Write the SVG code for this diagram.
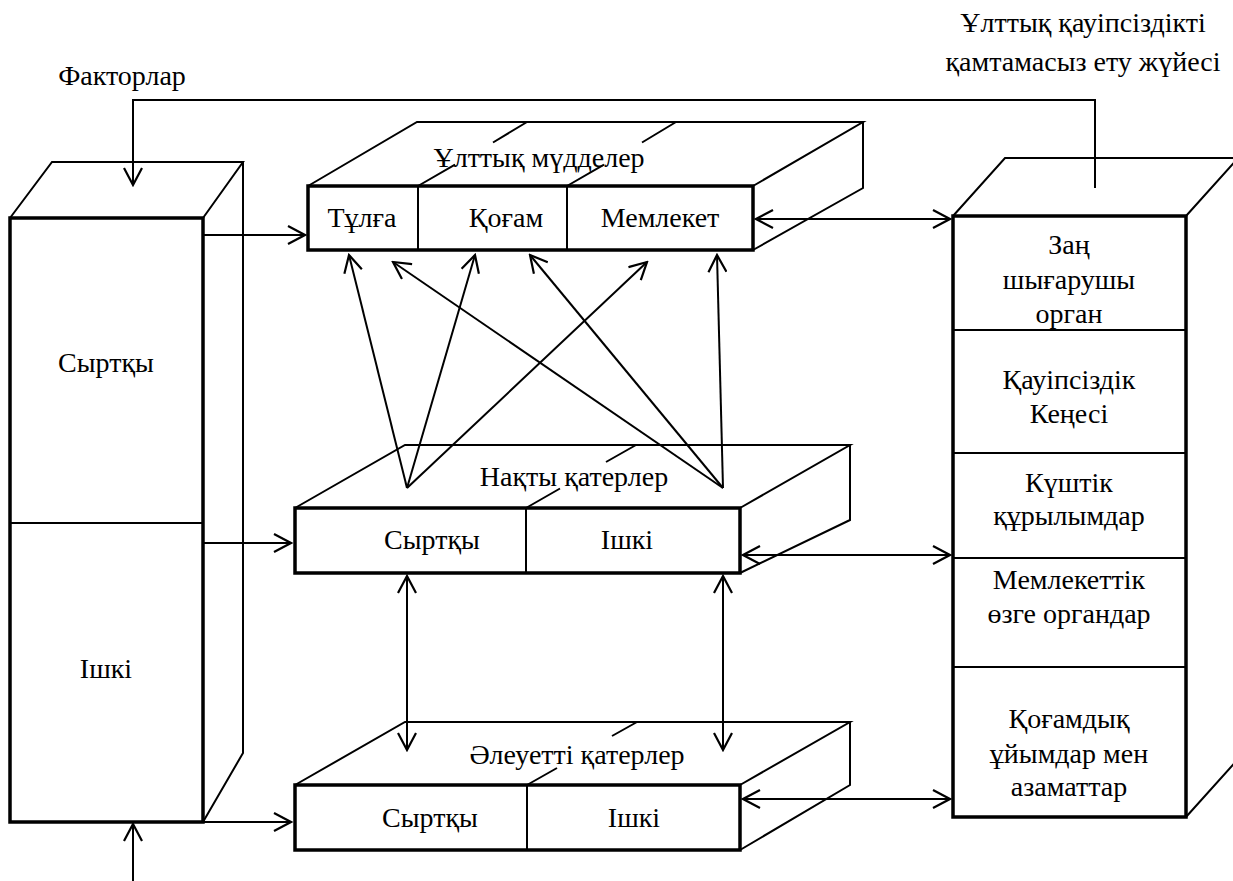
<svg xmlns="http://www.w3.org/2000/svg" width="1233" height="881" viewBox="0 0 1233 881">
<defs>
<marker id="ah" viewBox="0 0 20 20" refX="18" refY="10" markerWidth="20" markerHeight="20" markerUnits="userSpaceOnUse" orient="auto-start-reverse">
<path d="M1,1 L18,10 L1,19" fill="none" stroke="#000" stroke-width="2.2"/>
</marker>
</defs>
<style>
text{font-family:"Liberation Serif","Times New Roman","DejaVu Serif",serif;font-size:28px;fill:#000;text-anchor:middle}
.front{fill:#fff;stroke:#000;stroke-width:3.5}
.face{fill:none;stroke:#000;stroke-width:2}
.div{stroke:#000;stroke-width:2}
.con{fill:none;stroke:#000;stroke-width:2;marker-end:url(#ah)}
.dbl{fill:none;stroke:#000;stroke-width:2;marker-end:url(#ah);marker-start:url(#ah)}
</style>
<rect width="1233" height="881" fill="#fff"/>

<g id="labels">
<text x="1083" y="32">Ұлттық қауіпсіздікті</text>
<text x="1083" y="71">қамтамасыз ету жүйесі</text>
<text x="122" y="85">Факторлар</text>
</g>

<g id="factors">
<path class="face" d="M10,218 L52,162 L243,162 L203,218 M243,162 L243,753 L203,822"/>
<rect class="front" x="10" y="218" width="193" height="604"/>
<line class="div" x1="10" y1="523" x2="203" y2="523"/>
<text x="106" y="372">Сыртқы</text>
<text x="106" y="678">Ішкі</text>
</g>

<g id="interests">
<path class="face" d="M308,186 L417,122 L863,122 L753,186 M863,122 L863,188 L753,250"/>
<path class="div" d="M418,186 L455,164.6 M493,142.5 L527,122 M567,186 L604,164.6 M642,142.5 L676,122"/>
<rect class="front" x="308" y="186" width="445" height="64"/>
<line class="div" x1="418" y1="186" x2="418" y2="250"/>
<line class="div" x1="567" y1="186" x2="567" y2="250"/>
<text x="539" y="167">Ұлттық мүдделер</text>
<text x="362" y="227">Тұлға</text>
<text x="506" y="227">Қоғам</text>
<text x="660" y="227">Мемлекет</text>
</g>

<g id="real-threats">
<path class="face" d="M295,508 L405,445 L850,445 L740,508 M850,445 L850,520 L740,573"/>
<path class="div" d="M526,508 L560,488.5 M606,462 L636,445"/>
<rect class="front" x="295" y="508" width="445" height="65"/>
<line class="div" x1="526" y1="508" x2="526" y2="573"/>
<text x="574" y="486">Нақты қатерлер</text>
<text x="432" y="549">Сыртқы</text>
<text x="627" y="549">Ішкі</text>
</g>

<g id="potential-threats">
<path class="face" d="M295,785 L405,722 L850,722 L740,785 M850,722 L850,785 L740,850"/>
<path class="div" d="M527,785 L557,768 M612,736 L637,722"/>
<rect class="front" x="295" y="785" width="445" height="65"/>
<line class="div" x1="527" y1="785" x2="527" y2="850"/>
<text x="577" y="764">Әлеуетті қатерлер</text>
<text x="430" y="827">Сыртқы</text>
<text x="634" y="827">Ішкі</text>
</g>

<g id="security-system">
<path class="face" d="M953,216 L1005,158 L1240,158 M1186,216 L1240,156 M1186,817 L1240,757"/>
<rect class="front" x="953" y="216" width="233" height="601"/>
<line class="div" x1="953" y1="330" x2="1186" y2="330"/>
<line class="div" x1="953" y1="453" x2="1186" y2="453"/>
<line class="div" x1="953" y1="558" x2="1186" y2="558"/>
<line class="div" x1="953" y1="667" x2="1186" y2="667"/>
<text x="1069" y="254">Заң</text>
<text x="1069" y="289">шығарушы</text>
<text x="1069" y="323">орган</text>
<text x="1069" y="389">Қауіпсіздік</text>
<text x="1069" y="423">Кеңесі</text>
<text x="1069" y="492">Күштік</text>
<text x="1069" y="525">құрылымдар</text>
<text x="1069" y="589">Мемлекеттік</text>
<text x="1069" y="623">өзге органдар</text>
<text x="1069" y="728">Қоғамдық</text>
<text x="1069" y="763">ұйымдар мен</text>
<text x="1069" y="796">азаматтар</text>
</g>

<g id="connectors">
<path class="con" d="M1095,188 L1095,100 L133,100 L133,185"/>
<line class="con" x1="133" y1="881" x2="133" y2="824"/>
<line class="con" x1="203" y1="235" x2="305" y2="235"/>
<line class="con" x1="203" y1="543" x2="291" y2="543"/>
<line class="con" x1="203" y1="822" x2="291" y2="822"/>
<line class="dbl" x1="756" y1="219" x2="950" y2="219"/>
<line class="dbl" x1="743" y1="555" x2="950" y2="555"/>
<line class="dbl" x1="743" y1="799" x2="950" y2="799"/>
<line class="dbl" x1="407" y1="576" x2="407" y2="750"/>
<line class="dbl" x1="723" y1="576" x2="723" y2="750"/>
<line class="con" x1="407" y1="488" x2="349" y2="255"/>
<line class="con" x1="407" y1="488" x2="475" y2="255"/>
<line class="con" x1="407" y1="488" x2="647" y2="262"/>
<line class="con" x1="723" y1="488" x2="393" y2="262"/>
<line class="con" x1="723" y1="488" x2="530" y2="255"/>
<line class="con" x1="723" y1="488" x2="717" y2="255"/>
</g>
</svg>
